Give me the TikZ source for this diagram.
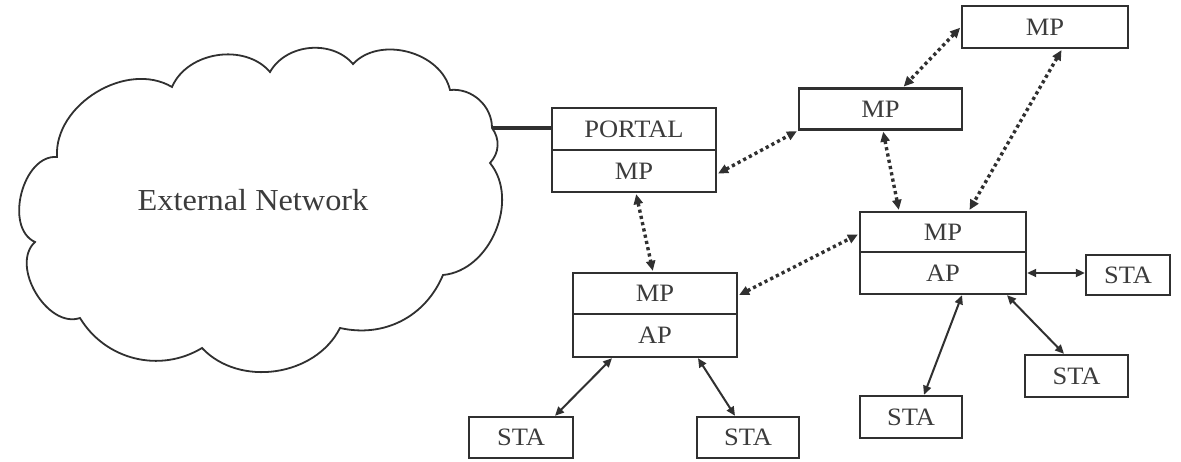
\documentclass[tikz,border=0pt]{standalone}
\usepackage{fontspec}
\setmainfont{Liberation Serif}
\newfontfamily\wideserif[FakeStretch=1.06]{Liberation Serif}
\usetikzlibrary{arrows.meta}
\definecolor{ln}{HTML}{303030}
\definecolor{tx}{HTML}{3c3c3c}
\tikzset{
  box/.style={draw=ln, line width=2.4pt, fill=white, inner sep=0pt, text=tx,
     font=\wideserif\fontsize{25}{27}\selectfont, anchor=center},
  dotlink/.style={draw=ln, line width=3.4pt, dash pattern=on 3.2pt off 3.2pt,
     {Triangle[length=10pt,width=9pt]}-{Triangle[length=10pt,width=9pt]}, shorten <=1pt, shorten >=1pt},
  sollink/.style={draw=ln, line width=2pt,
     {Triangle[length=9pt,width=8pt]}-{Triangle[length=9pt,width=8pt]}},
  cloudline/.style={draw=ln, line width=1.8pt, fill=white},
}
\begin{document}
\begin{tikzpicture}[x=1pt,y=-1pt]
\useasboundingbox[fill=white] (0,0) rectangle (1181,462);
% cloud
\draw[cloudline] (57,157) to[bend left=62] (172,87) to[bend left=58] (270,72)
  to[bend left=55] (353,64) to[bend left=62] (450,90) to[bend left=48] (492,128)
  to[bend left=40] (490,163) to[bend left=62] (443,275) to[bend left=40] (340,328)
  to[bend left=55] (202,348) to[bend left=45] (80,318) to[bend left=78] (35,242)
  to[bend left=80] (57,157) -- cycle;
\node[text=tx, font=\wideserif\fontsize{30.5}{32}\selectfont] (ext) at (253,200) {External Network};
\coordinate (cloudR) at (492,128);
% boxes
\node[box, minimum width=164pt, minimum height=42pt] (portalT) at (634,129) {PORTAL};
\node[box, minimum width=164pt, minimum height=42pt] (portalB) at (634,171) {MP};
\node[box, minimum width=163pt, minimum height=41pt] (mpMid) at (880.5,109) {MP};
\node[box, minimum width=166pt, minimum height=42pt] (mpTop) at (1045,27) {MP};
\node[box, minimum width=166pt, minimum height=40pt] (rT) at (943,232) {MP};
\node[box, minimum width=166pt, minimum height=42pt] (rB) at (943,273) {AP};
\node[box, minimum width=164pt, minimum height=41pt] (lT) at (655,293.5) {MP};
\node[box, minimum width=164pt, minimum height=43pt] (lB) at (655,335.5) {AP};
\node[box, minimum width=104pt, minimum height=41pt] (staL) at (521,437.5) {STA};
\node[box, minimum width=102pt, minimum height=41pt] (staM) at (748,437.5) {STA};
\node[box, minimum width=84pt, minimum height=40pt] (staR1) at (1128,275) {STA};
\node[box, minimum width=103pt, minimum height=42pt] (staR2) at (1076.5,376) {STA};
\node[box, minimum width=102pt, minimum height=42pt] (staR3) at (911,417) {STA};
% links
\draw[draw=ln, line width=4pt] (cloudR) -- (cloudR -| portalT.west);
\draw[dotlink] (mpTop.west) -- ([xshift=22.5pt]mpMid.north);
\draw[dotlink] ([yshift=-3pt]portalB.east) -- (mpMid.south west);
\draw[dotlink] ([xshift=2.5pt]mpMid.south) -- ([xshift=-44pt]rT.north);
\draw[dotlink] ([xshift=17pt]mpTop.south) -- ([xshift=26pt]rT.north);
\draw[dotlink] ([xshift=2pt]portalB.south) -- ([xshift=-2pt]lT.north);
\draw[dotlink] ([yshift=-2pt]lT.east) -- ([yshift=-2pt]rT.west);
\draw[sollink] ([xshift=-43pt]lB.south) -- ([xshift=34pt]staL.north);
\draw[sollink] ([xshift=43pt]lB.south) -- ([xshift=-13pt]staM.north);
\draw[sollink] (rB.east) -- (rB.east -| staR1.west);
\draw[sollink] ([xshift=19pt]rB.south) -- ([xshift=13pt]staR3.north);
\draw[sollink] ([xshift=64pt]rB.south) -- ([xshift=-12.5pt]staR2.north);
\end{tikzpicture}
\end{document}
